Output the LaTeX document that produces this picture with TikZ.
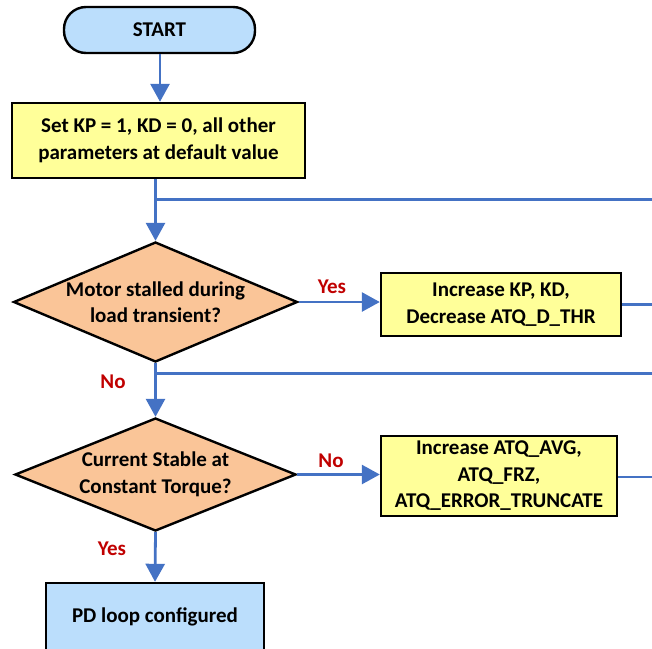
\documentclass[tikz,border=0pt]{standalone}
\usepackage{fontspec}
\setmainfont{Carlito}
\usetikzlibrary{shapes.geometric,arrows.meta}
\definecolor{boxblue}{RGB}{187,222,252}
\definecolor{boxyellow}{RGB}{255,255,153}
\definecolor{diapeach}{RGB}{250,197,152}
\definecolor{flowblue}{RGB}{68,114,196}
\definecolor{lblred}{RGB}{192,0,0}
\tikzset{
  txt/.style={font=\bfseries\fontsize{21}{26.5}\selectfont, align=center, text=black},
  startbox/.style={txt, draw=black, line width=2.4pt, fill=boxblue, rounded corners=22pt, inner sep=0pt},
  procbox/.style={txt, draw=black, line width=2.4pt, fill=boxyellow, inner sep=0pt},
  endbox/.style={txt, draw=black, line width=2.4pt, fill=boxblue, inner sep=0pt},
  decision/.style={txt, draw=black, line width=2.4pt, fill=diapeach, diamond, inner sep=-5pt},
  flow/.style={draw=flowblue, line width=2.8pt, -{Triangle[length=18pt,width=19pt]}},
  plainflow/.style={draw=flowblue, line width=2.8pt},
  lbl/.style={font=\bfseries\fontsize{21}{24}\selectfont, text=lblred, inner sep=0pt}
}
\begin{document}
\begin{tikzpicture}[x=1pt,y=-1pt]
\useasboundingbox (0,0) rectangle (652,648);

\node[startbox, minimum width=191pt, minimum height=46pt] (start) at (159.5,30) {START};
\node[procbox, minimum width=293pt, minimum height=75pt] (b1) at (158.5,140.5) {Set KP = 1, KD = 0, all other\\parameters at default value};
\node[decision, minimum width=284pt, minimum height=120pt, shape aspect=2.37] (d1) at (155.5,302) {Motor stalled during\\load transient?};
\node[procbox, minimum width=240pt, minimum height=63pt] (b2) at (501,304.5) {Increase KP, KD,\\Decrease ATQ\_D\_THR};
\node[decision, minimum width=281pt, minimum height=113pt, shape aspect=2.49] (d2) at (155.5,474.5) {Current Stable at\\Constant Torque?};
\node[procbox, minimum width=236pt, minimum height=80pt] (b3) at (499,476) {Increase ATQ\_AVG,\\ATQ\_FRZ,\\ATQ\_ERROR\_TRUNCATE};
\node[endbox, minimum width=218pt, minimum height=68pt] (b4) at (155,617) {PD loop configured};

\node[lbl] (l1) at (332,287) {Yes};
\node[lbl] (l2) at (113,382) {No};
\node[lbl] (l3) at (331,461) {No};
\node[lbl] (l4) at (112,549) {Yes};

\coordinate (j1) at (155,199.5);
\coordinate (e1) at (652,199.5);
\coordinate (j2) at (155,373.5);
\coordinate (e2) at (652,373.5);
\coordinate (e3) at (652,304.5);
\coordinate (e4) at (652,477);

\draw[flow] (start.south -| 160,0) -- (b1.north -| 160,0);
\draw[flow] (b1.south -| d1.north) -- (d1.north);
\draw[plainflow] (j1) -- (e1);
\draw[flow] (d1.east) -- (b2.west |- d1.east);
\draw[plainflow] (b2.east) -- (e3);
\draw[flow] (d1.south) -- (d2.north);
\draw[plainflow] (j2) -- (e2);
\draw[flow] (d2.east) -- (b3.west |- d2.east);
\draw[plainflow] (b3.east |- e4) -- (e4);
\draw[flow] (d2.south) -- (b4.north);
\end{tikzpicture}
\end{document}
